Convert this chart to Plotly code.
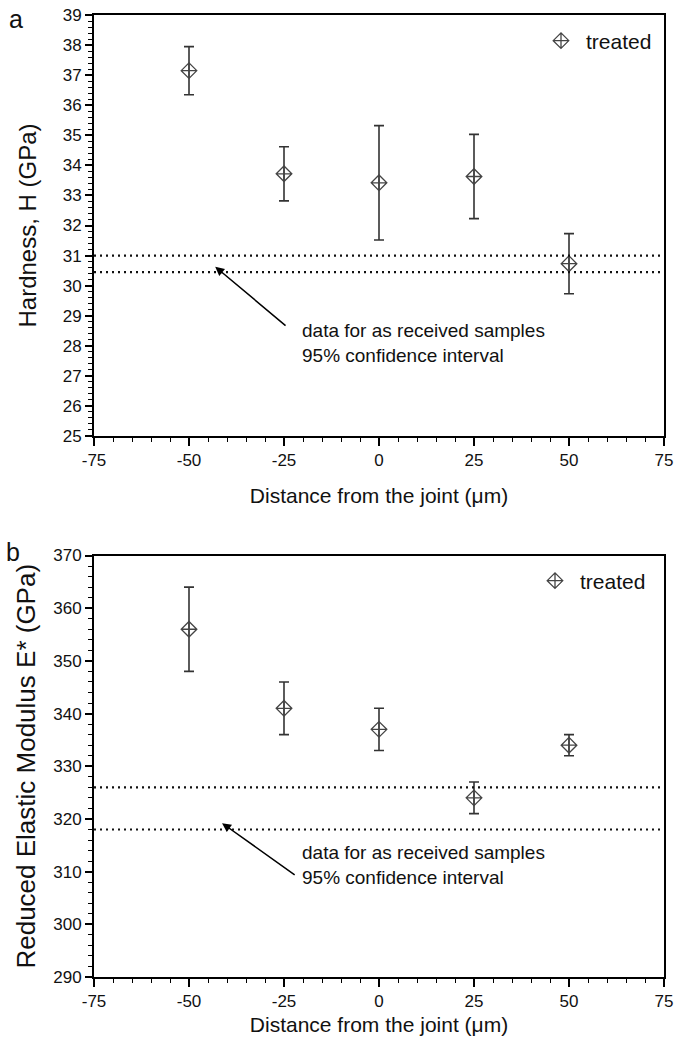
import plotly.graph_objects as go

# ---------------- data ----------------
distance = [-50, -25, 0, 25, 50]

hardness = [37.15, 33.72, 33.42, 33.63, 30.73]
hardness_err = [0.8, 0.9, 1.9, 1.4, 1.0]
hardness_ref = [31.0, 30.45]          # as-received 95% CI bounds

modulus = [356, 341, 337, 324, 334]
modulus_err = [8, 5, 4, 3, 2]
modulus_ref = [326, 318]              # as-received 95% CI bounds

x_ticks = [-75, -50, -25, 0, 25, 50, 75]
x_ticktext = ["-75", "-50", "-25", "0", "25", "50", "75"]
h_ticks = list(range(25, 40))
m_ticks = list(range(290, 371, 10))

series_name = "treated"
x_title = "Distance from the joint (\u03bcm)"
h_title = "Hardness, H (GPa)"
m_title = "Reduced Elastic Modulus E* (GPa)"
note = "data for as received samples<br>95% confidence interval"

# arrow (tip -> tail) and note anchor positions in data units
h_arrow = dict(tip=(-43.1, 30.63), tail=(-24.2, 28.63), note=(-20.8, 28.09))
m_arrow = dict(tip=(-41.3, 319.2), tail=(-21.8, 309.2), note=(-20.8, 311.3))

# ---------------- layout geometry (page pixels) ----------------
W, H = 676, 1041
PLOT_L, PLOT_R, PLOT_T, PLOT_B = 94, 664, 15, 977
L, T, R, B = PLOT_L, PLOT_T, W - PLOT_R, H - PLOT_B
PW, PH = PLOT_R - PLOT_L, PLOT_B - PLOT_T


def px(xp):
    return (xp - PLOT_L) / PW


def py(yp):
    return (PLOT_B - yp) / PH


FONT = "Liberation Sans, Arial, sans-serif"
INK = "#111111"

fig = go.Figure()

marker = dict(symbol="diamond-cross-open", size=12, color="#444444",
              line=dict(width=1.3, color="#444444"))

fig.add_trace(go.Scatter(
    x=distance, y=hardness, mode="markers", name=series_name,
    marker=marker, xaxis="x", yaxis="y", legend="legend",
    error_y=dict(type="data", array=hardness_err, visible=True,
                 color="#333333", thickness=1.6, width=5),
))
fig.add_trace(go.Scatter(
    x=distance, y=modulus, mode="markers", name=series_name,
    marker=marker, xaxis="x2", yaxis="y2", legend="legend2",
    error_y=dict(type="data", array=modulus_err, visible=True,
                 color="#333333", thickness=1.6, width=5),
))

# dotted reference lines
shapes = []
for v in hardness_ref:
    shapes.append(dict(type="line", xref="x domain", yref="y", x0=0, x1=1,
                       y0=v, y1=v, line=dict(color="#111111", width=2.2, dash="2px,4px")))
for v in modulus_ref:
    shapes.append(dict(type="line", xref="x2 domain", yref="y2", x0=0, x1=1,
                       y0=v, y1=v, line=dict(color="#111111", width=2.2, dash="2px,4px")))

axis_common = dict(
    showgrid=False, zeroline=False, showline=True, linecolor="black", linewidth=2,
    mirror=True, ticks="outside", tickcolor="black", tickwidth=1.5, ticklen=7,
    ticklabeloverflow="allow",
    tickfont=dict(family=FONT, size=17, color=INK),
)

top_dom = [py(436), 1.0]
bot_dom = [0.0, py(555.5)]

fig.update_layout(
    width=W, height=H, template="none",
    paper_bgcolor="white", plot_bgcolor="white",
    margin=dict(l=L, r=R, t=T, b=B),
    font=dict(family=FONT, color=INK),
    xaxis=dict(axis_common, domain=[0, 1], anchor="y", range=[-75, 75], ticklen=8,
               tickvals=x_ticks, ticktext=x_ticktext,
               minor=dict(dtick=5, ticklen=4, tickwidth=1.3, ticks="outside", tickcolor="black"),
               title=dict(text=x_title, font=dict(family=FONT, size=21, color=INK), standoff=19)),
    yaxis=dict(axis_common, domain=top_dom, anchor="x", range=[25, 39],
               tickvals=h_ticks,
               minor=dict(dtick=0.2, ticklen=4, tickwidth=1.2, ticks="outside", tickcolor="black"),
               title=dict(text=h_title, font=dict(family=FONT, size=24, color=INK), standoff=19)),
    xaxis2=dict(axis_common, domain=[0, 1], anchor="y2", range=[-75, 75], ticklen=8,
                tickvals=x_ticks, ticktext=x_ticktext,
                minor=dict(dtick=5, ticklen=4, tickwidth=1.3, ticks="outside", tickcolor="black"),
                title=dict(text=x_title, font=dict(family=FONT, size=21, color=INK), standoff=7)),
    yaxis2=dict(axis_common, domain=bot_dom, anchor="x2", range=[290, 370],
                tickvals=m_ticks,
                minor=dict(dtick=2, ticklen=4, tickwidth=1.2, ticks="outside", tickcolor="black"),
                title=dict(text=m_title, font=dict(family=FONT, size=26, color=INK), standoff=10)),
    legend=dict(x=px(536), y=py(41), xanchor="left", yanchor="middle", itemwidth=40,
                bgcolor="rgba(0,0,0,0)", font=dict(family=FONT, size=21, color=INK)),
    legend2=dict(x=px(530), y=py(581), xanchor="left", yanchor="middle", itemwidth=40,
                 bgcolor="rgba(0,0,0,0)", font=dict(family=FONT, size=21, color=INK)),
    shapes=shapes,
    showlegend=True,
)


def arrow(spec, xr, yr):
    (x, y), (ax, ay) = spec["tip"], spec["tail"]
    return dict(text="", xref=xr, yref=yr, x=x, y=y, axref=xr, ayref=yr,
                ax=ax, ay=ay, showarrow=True, arrowhead=2, arrowsize=1.2,
                arrowwidth=1.5, arrowcolor="black")


def note_ann(spec, xr, yr):
    x, y = spec["note"]
    return dict(text=note, xref=xr, yref=yr, x=x, y=y, showarrow=False,
                xanchor="left", yanchor="middle", align="left",
                font=dict(family=FONT, size=19, color=INK))


annotations = [
    dict(text="a", xref="paper", yref="paper", x=px(16), y=py(19), showarrow=False,
         font=dict(family=FONT, size=25, color=INK), xanchor="center", yanchor="middle"),
    dict(text="b", xref="paper", yref="paper", x=px(13), y=py(552), showarrow=False,
         font=dict(family=FONT, size=25, color=INK), xanchor="center", yanchor="middle"),
    arrow(h_arrow, "x", "y"),
    arrow(m_arrow, "x2", "y2"),
    note_ann(h_arrow, "x", "y"),
    note_ann(m_arrow, "x2", "y2"),
]
fig.update_layout(annotations=annotations)

# place the figure flush with the page corner (no default body margin)
fig.write_html("out.html", config={"displayModeBar": False},
               post_script="document.body.style.margin='0';")
